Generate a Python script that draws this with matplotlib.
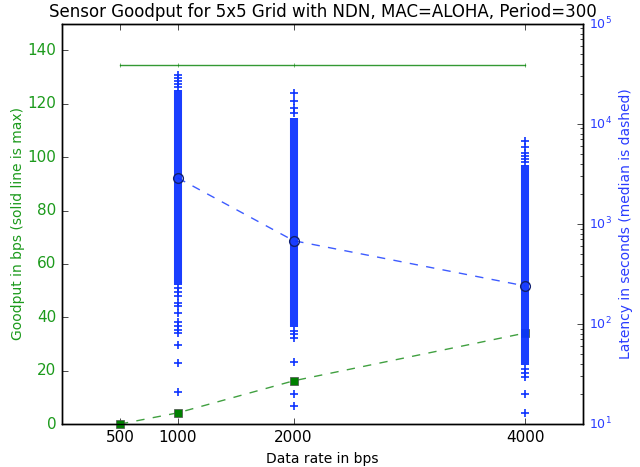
import matplotlib
matplotlib.use('Agg')
import matplotlib.pyplot as plt
import numpy as np

plt.style.use('classic')
plt.rcParams['font.family'] = ['DejaVu Sans']
plt.rcParams['font.size'] = 10

# data rates and goodput (left axis)
rates        = [500, 1000, 2000, 4000]
goodput      = [0.0, 4.2, 16.2, 34.1]
goodput_max  = [134.4, 134.4, 134.4, 134.4]

# median latency (right axis, log)
lat_rates    = [1000, 2000, 4000]
lat_median   = [2880, 680, 240]

# dense part of the latency clouds (low / high end)
band_lo      = [245, 93, 39]
band_hi      = [21900, 11500, 3890]

# individual latency samples outside the dense part
lat_points = {
    1000: [30900, 28800, 26900, 25100, 23400, 229, 209, 191, 162, 151,
           129, 105, 95, 87, 81, 62, 41, 21],
    2000: [20400, 17000, 14500, 12900, 85, 79, 72, 42, 20, 15],
    4000: [6760, 5900, 5130, 4790, 4470, 4170, 35.5, 32, 29.5, 20, 12.9],
}

blue = (0.05, 0.2, 1.0)
green_txt = '#1c9a1c'
blue_txt = '#2a3cff'

fig = plt.figure(figsize=(6.4, 4.67), dpi=100, facecolor='white')
ax1 = fig.add_axes([0.097, 0.092, 0.814, 0.857])
ax1.set_facecolor('white')
ax2 = ax1.twinx()

ax1.plot(rates, goodput_max, '-', color='g', alpha=0.8, lw=1,
         marker='|', markersize=3)
ax1.plot(rates, goodput, '--', color='g', alpha=0.75, lw=1)
ax1.plot(rates, goodput, 's', color='g', markersize=6, mec='0.3',
         clip_on=False, zorder=5)

ax2.vlines(lat_rates, band_lo, band_hi, color=blue, lw=5.8, alpha=0.95)
for r in lat_rates:
    ys = lat_points[r]
    ax2.plot([r] * len(ys), ys, '+', color=blue, markersize=5.5, mew=1.2)
ax2.plot(lat_rates, lat_median, '--', color=blue, alpha=0.8, lw=1)
ax2.plot(lat_rates, lat_median, 'o', mfc='none', mec='#102070',
         markersize=7, mew=1)

ax1.set_xlim(0, 4500)
ax1.set_ylim(0, 150)
ax1.set_xticks(rates)
ax1.set_yticks(range(0, 141, 20))
ax2.set_yscale('log')
ax2.set_ylim(10, 1e5)

ax1.tick_params(axis='both', labelsize=11)
ax2.tick_params(axis='y', which='both', labelsize=9)
ax1.set_xlabel('Data rate in bps', fontsize=10)
ax1.set_ylabel('Goodput in bps (solid line is max)', color=green_txt,
               fontsize=10, labelpad=2)
ax2.set_ylabel('Latency in seconds (median is dashed)', color=blue_txt,
               fontsize=10)
for t in ax1.get_yticklabels():
    t.set_color(green_txt)
for t in ax2.get_yticklabels():
    t.set_color(blue_txt)
ax1.set_title('Sensor Goodput for 5x5 Grid with NDN, MAC=ALOHA, Period=300',
              fontsize=12)

fig.savefig('out.png', dpi=100, facecolor='white')
